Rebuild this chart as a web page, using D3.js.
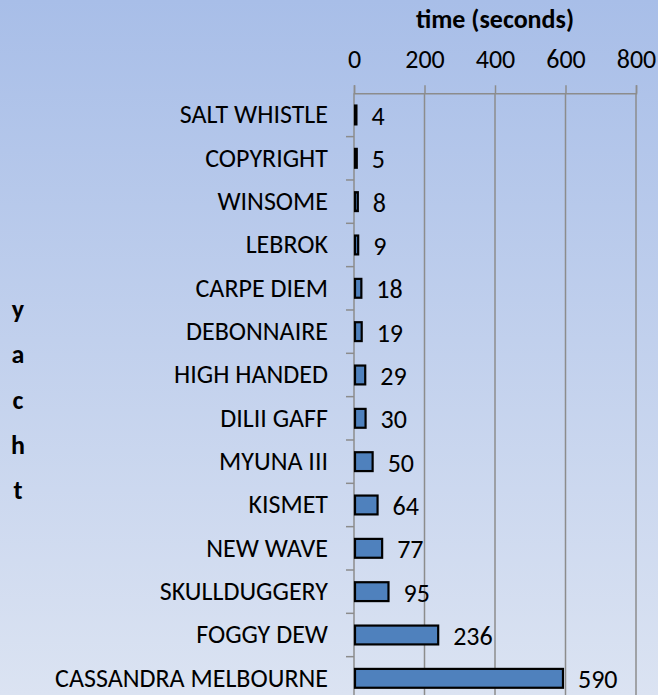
<!DOCTYPE html>
<html><head><meta charset="utf-8">
<script src="https://cdn.jsdelivr.net/npm/d3@7"></script>
<style>
html,body{margin:0;padding:0;overflow:hidden;}
svg{display:block;}
text{font-family:Carlito, Lato, "Open Sans", sans-serif;fill:#000;}
</style></head>
<body>
<svg id="chart" width="658" height="695"></svg>
<script>
const categories = ["SALT WHISTLE","COPYRIGHT","WINSOME","LEBROK","CARPE DIEM","DEBONNAIRE","HIGH HANDED","DILII GAFF","MYUNA III","KISMET","NEW WAVE","SKULLDUGGERY","FOGGY DEW","CASSANDRA MELBOURNE"];
const times = [4,5,8,9,18,19,29,30,50,64,77,95,236,590];
const xTicks = [0,200,400,600,800];
const xTitle = "time (seconds)";
const yTitle = "yacht";

(function(){
const W = 658, H = 695;
const FS = 26;
const svg = d3.select("#chart");
const defs = svg.append("defs");
const grad = defs.append("linearGradient").attr("id","bg").attr("x1",0).attr("y1",0).attr("x2",0).attr("y2",1);
grad.append("stop").attr("offset","0%").attr("stop-color","#a8bee8");
grad.append("stop").attr("offset","100%").attr("stop-color","#dbe3f2");
svg.append("rect").attr("width",W).attr("height",H).attr("fill","url(#bg)");

const x = d3.scaleLinear().domain([0,800]).range([354,636]);
const plotTop = 93.3, plotBottom = 700;
const y = d3.scaleBand().domain(categories).range([plotTop,plotBottom]).paddingInner(0.565).paddingOuter(0.2825);
const grey = "#8c8c8c";

// gridlines
svg.append("g").selectAll("line").data(xTicks.slice(1)).join("line")
  .attr("x1",d=>x(d)).attr("x2",d=>x(d)).attr("y1",plotTop).attr("y2",H)
  .attr("stroke",grey).attr("stroke-width",1.5);

// top axis
const xAxis = d3.axisTop(x).tickValues(xTicks).tickSize(8).tickPadding(17).tickFormat(d3.format("d"));
const gx = svg.append("g").attr("transform",`translate(0,${plotTop})`).call(xAxis);
gx.select(".domain").attr("stroke",grey).attr("stroke-width",1.5);
gx.selectAll(".tick line").attr("stroke",grey).attr("stroke-width",1.5);
gx.selectAll(".tick text").attr("font-size",FS).attr("font-family","Carlito, Lato, sans-serif").attr("fill","#000");

// left axis
const yAxis = d3.axisLeft(y).tickSize(0).tickPadding(26);
const gy = svg.append("g").attr("transform",`translate(${x(0)},0)`).call(yAxis);
gy.select(".domain").remove();
gy.selectAll(".tick text").attr("font-size",FS).attr("font-family","Carlito, Lato, sans-serif").attr("fill","#000");
svg.append("line").attr("x1",x(0)).attr("x2",x(0)).attr("y1",plotTop).attr("y2",H).attr("stroke",grey).attr("stroke-width",1.5);
// category boundary ticks
const bounds = categories.map(c => y(c) - y.step()*y.paddingInner()/2).slice(1);
svg.append("g").selectAll("line").data(bounds).join("line")
  .attr("x1",x(0)-8).attr("x2",x(0)).attr("y1",d=>d).attr("y2",d=>d)
  .attr("stroke",grey).attr("stroke-width",1.5);

// bars
svg.append("g").selectAll("rect").data(times).join("rect")
  .attr("x",x(0)+1).attr("y",(d,i)=>y(categories[i]))
  .attr("width",d=>x(d)-x(0)).attr("height",y.bandwidth())
  .attr("fill","#4f81bd").attr("stroke","#000").attr("stroke-width",2.2);

// value labels
svg.append("g").selectAll("text").data(times).join("text")
  .attr("x",d=>x(d)+16).attr("y",(d,i)=>y(categories[i])+y.bandwidth()/2)
  .attr("dy","0.38em").attr("font-size",FS).text(d=>d);

// titles
svg.append("text").attr("x",(x(0)+x(800))/2).attr("y",28).attr("text-anchor","middle")
  .attr("font-size",26).attr("font-weight","bold").text(xTitle);
const yt = svg.append("g");
yTitle.split("").forEach((ch,i)=>{
  yt.append("text").attr("x",18).attr("y",318 + i*45.3).attr("text-anchor","middle")
    .attr("font-size",26).attr("font-weight","bold").text(ch);
});
})();
</script>
</body></html>
